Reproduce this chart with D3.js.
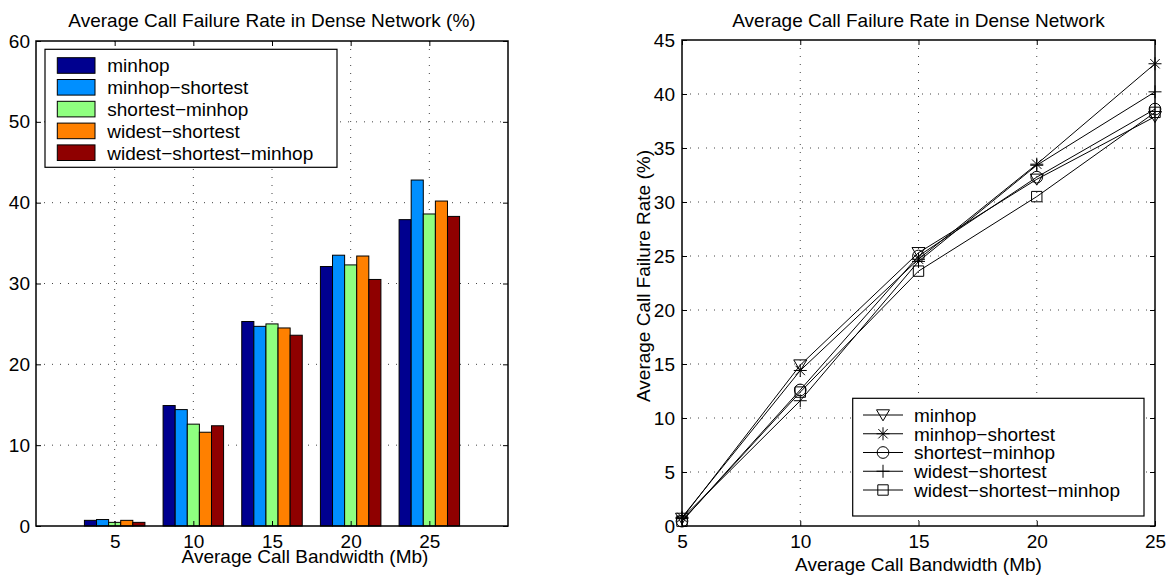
<!DOCTYPE html>
<html>
<head>
<meta charset="utf-8">
<script src="https://cdn.jsdelivr.net/npm/d3@7"></script>
<style>
  body { margin: 0; background: #fff; }
  text { font-family: "Liberation Sans", Arial, Helvetica, sans-serif; fill: #000; }
</style>
</head>
<body>
<svg id="chart" width="1169" height="578"></svg>
<script>
// Average call bandwidth categories (Mb)
const bandwidths = [5, 10, 15, 20, 25];
const seriesNames = ["minhop", "minhop\u2212shortest", "shortest\u2212minhop", "widest\u2212shortest", "widest\u2212shortest\u2212minhop"];

// Average call failure rate (%) per routing scheme
const minhop               = [0.7, 14.9, 25.3, 32.1, 37.9];
const minhopShortest       = [0.8, 14.4, 24.7, 33.5, 42.8];
const shortestMinhop       = [0.45, 12.6, 25.0, 32.3, 38.6];
const widestShortest       = [0.7, 11.6, 24.5, 33.4, 40.2];
const widestShortestMinhop = [0.45, 12.4, 23.6, 30.5, 38.3];

const barTicksY = [0, 10, 20, 30, 40, 50, 60];
const lineTicksY = [0, 5, 10, 15, 20, 25, 30, 35, 40, 45];
const lineTicksX = [5, 10, 15, 20, 25];

const barColors = ["#00008f", "#008fff", "#8fff80", "#ff8000", "#8f0000"];
const markerTypes = ["triangleDown", "asterisk", "circle", "plus", "square"];

const series = [minhop, minhopShortest, shortestMinhop, widestShortest, widestShortestMinhop]
  .map((values, i) => ({ name: seriesNames[i], values }));

const svg = d3.select("#chart");
const FONT = 19;

function dottedGrid(g, lines) {
  g.selectAll(null).data(lines).join("line")
    .attr("x1", d => d[0]).attr("y1", d => d[1])
    .attr("x2", d => d[2]).attr("y2", d => d[3])
    .attr("stroke", "#444").attr("stroke-width", 1)
    .attr("stroke-dasharray", "1,7");
}

// ---------- Left panel: grouped bars ----------
const L = { x0: 36, x1: 508, y0: 41, y1: 526 };
const xL = d3.scaleLinear().domain([0, 6]).range([L.x0, L.x1]);
const yL = d3.scaleLinear().domain([0, 60]).range([L.y1, L.y0]);
const gL = svg.append("g");

dottedGrid(gL, bandwidths.map((b, i) => [xL(i + 1), L.y0, xL(i + 1), L.y1])
  .concat(barTicksY.slice(1, -1).map(v => [L.x0, yL(v), L.x1, yL(v)])));

const step = xL(1) - xL(0);
const groupW = step * 0.769;
const barW = groupW / series.length;
series.forEach((s, si) => {
  gL.append("g").selectAll("rect").data(s.values).join("rect")
    .attr("x", (d, i) => xL(i + 1) - groupW / 2 + si * barW)
    .attr("y", d => yL(d))
    .attr("width", barW)
    .attr("height", d => yL(0) - yL(d))
    .attr("fill", barColors[si])
    .attr("stroke", "#000").attr("stroke-width", 1);
});

// axes with inward ticks
const axL = d3.axisLeft(yL).tickValues(barTicksY).tickSizeInner(-5).tickSizeOuter(0).tickPadding(6);
gL.append("g").attr("transform", `translate(${L.x0},0)`).call(axL)
  .call(g => g.select(".domain").remove())
  .call(g => g.selectAll("text").attr("font-size", FONT).attr("font-family", null));
const axLr = d3.axisRight(yL).tickValues(barTicksY).tickSizeInner(-5).tickSizeOuter(0).tickFormat("");
gL.append("g").attr("transform", `translate(${L.x1},0)`).call(axLr).call(g => g.select(".domain").remove());
const axLb = d3.axisBottom(xL).tickValues([1, 2, 3, 4, 5]).tickFormat((d, i) => bandwidths[i])
  .tickSizeInner(-5).tickSizeOuter(0).tickPadding(9);
gL.append("g").attr("transform", `translate(0,${L.y1})`).call(axLb)
  .call(g => g.select(".domain").remove())
  .call(g => g.selectAll("text").attr("font-size", FONT).attr("font-family", null));
const axLt = d3.axisTop(xL).tickValues([1, 2, 3, 4, 5]).tickFormat("").tickSizeInner(-5).tickSizeOuter(0);
gL.append("g").attr("transform", `translate(0,${L.y0})`).call(axLt).call(g => g.select(".domain").remove());
gL.append("rect").attr("x", L.x0).attr("y", L.y0).attr("width", L.x1 - L.x0).attr("height", L.y1 - L.y0)
  .attr("fill", "none").attr("stroke", "#000").attr("stroke-width", 1.5);

gL.append("text").attr("x", (L.x0 + L.x1) / 2).attr("y", 27).attr("text-anchor", "middle")
  .attr("font-size", FONT).text("Average Call Failure Rate in Dense Network (%)");
gL.append("text").attr("x", 305).attr("y", 563).attr("text-anchor", "middle")
  .attr("font-size", FONT).text("Average Call Bandwidth (Mb)");

// legend
const legL = gL.append("g");
legL.append("rect").attr("x", 45).attr("y", 49.3).attr("width", 292).attr("height", 118)
  .attr("fill", "#fff").attr("stroke", "#000").attr("stroke-width", 1.2);
series.forEach((s, i) => {
  const cy = 65.5 + i * 21.8;
  legL.append("rect").attr("x", 57.3).attr("y", cy - 7.8).attr("width", 37.7).attr("height", 15.6)
    .attr("fill", barColors[i]).attr("stroke", "#000").attr("stroke-width", 1);
  legL.append("text").attr("x", 107.3).attr("y", cy).attr("dy", "0.36em")
    .attr("font-size", FONT).text(s.name);
});

// ---------- Right panel: lines with markers ----------
const R = { x0: 682, x1: 1155, y0: 40, y1: 526 };
const xR = d3.scaleLinear().domain([5, 25]).range([R.x0, R.x1]);
const yR = d3.scaleLinear().domain([0, 45]).range([R.y1, R.y0]);
const gR = svg.append("g");

dottedGrid(gR, lineTicksX.slice(1, -1).map(v => [xR(v), R.y0, xR(v), R.y1])
  .concat(lineTicksY.slice(1, -1).map(v => [R.x0, yR(v), R.x1, yR(v)])));

function markerPath(type, r) {
  const p = d3.path();
  if (type === "triangleDown") {
    p.moveTo(-r, -r * 0.8); p.lineTo(r, -r * 0.8); p.lineTo(0, r * 0.9); p.closePath();
  } else if (type === "asterisk") {
    p.moveTo(-r, 0); p.lineTo(r, 0); p.moveTo(0, -r); p.lineTo(0, r);
    const q = r * 0.72;
    p.moveTo(-q, -q); p.lineTo(q, q); p.moveTo(-q, q); p.lineTo(q, -q);
  } else if (type === "circle") {
    p.arc(0, 0, r * 0.9, 0, Math.PI * 2);
  } else if (type === "plus") {
    p.moveTo(-r, 0); p.lineTo(r, 0); p.moveTo(0, -r); p.lineTo(0, r);
  } else if (type === "square") {
    p.rect(-r * 0.8, -r * 0.8, r * 1.6, r * 1.6);
  }
  return p.toString();
}

const line = d3.line().x((d, i) => xR(bandwidths[i])).y(d => yR(d));
series.forEach((s, si) => {
  gR.append("path").attr("d", line(s.values)).attr("fill", "none")
    .attr("stroke", "#000").attr("stroke-width", 1);
  gR.append("g").selectAll("path").data(s.values).join("path")
    .attr("transform", (d, i) => `translate(${xR(bandwidths[i])},${yR(d)})`)
    .attr("d", markerPath(markerTypes[si], 6.5))
    .attr("fill", "none").attr("stroke", "#000").attr("stroke-width", 1);
});

const axR = d3.axisLeft(yR).tickValues(lineTicksY).tickSizeInner(-5).tickSizeOuter(0).tickPadding(7);
gR.append("g").attr("transform", `translate(${R.x0},0)`).call(axR)
  .call(g => g.select(".domain").remove())
  .call(g => g.selectAll("text").attr("font-size", FONT).attr("font-family", null));
const axRr = d3.axisRight(yR).tickValues(lineTicksY).tickSizeInner(-5).tickSizeOuter(0).tickFormat("");
gR.append("g").attr("transform", `translate(${R.x1},0)`).call(axRr).call(g => g.select(".domain").remove());
const axRb = d3.axisBottom(xR).tickValues(lineTicksX).tickSizeInner(-5).tickSizeOuter(0).tickPadding(9);
gR.append("g").attr("transform", `translate(0,${R.y1})`).call(axRb)
  .call(g => g.select(".domain").remove())
  .call(g => g.selectAll("text").attr("font-size", FONT).attr("font-family", null));
const axRt = d3.axisTop(xR).tickValues(lineTicksX).tickFormat("").tickSizeInner(-5).tickSizeOuter(0);
gR.append("g").attr("transform", `translate(0,${R.y0})`).call(axRt).call(g => g.select(".domain").remove());
gR.append("rect").attr("x", R.x0).attr("y", R.y0).attr("width", R.x1 - R.x0).attr("height", R.y1 - R.y0)
  .attr("fill", "none").attr("stroke", "#000").attr("stroke-width", 1.5);

gR.append("text").attr("x", (R.x0 + R.x1) / 2).attr("y", 27).attr("text-anchor", "middle")
  .attr("font-size", FONT).text("Average Call Failure Rate in Dense Network");
gR.append("text").attr("x", (R.x0 + R.x1) / 2).attr("y", 571).attr("text-anchor", "middle")
  .attr("font-size", FONT).text("Average Call Bandwidth (Mb)");
gR.append("text").attr("transform", "translate(650,276) rotate(-90)").attr("text-anchor", "middle")
  .attr("font-size", FONT).text("Average Call Failure Rate (%)");

// legend
const legR = gR.append("g");
legR.append("rect").attr("x", 852.7).attr("y", 398.3).attr("width", 291.3).attr("height", 117.7)
  .attr("fill", "#fff").attr("stroke", "#000").attr("stroke-width", 1.2);
series.forEach((s, i) => {
  const cy = 415 + i * 18.75;
  legR.append("line").attr("x1", 863).attr("x2", 903).attr("y1", cy).attr("y2", cy)
    .attr("stroke", "#000").attr("stroke-width", 1);
  legR.append("path").attr("transform", `translate(883,${cy})`).attr("d", markerPath(markerTypes[i], 6.5))
    .attr("fill", "none").attr("stroke", "#000").attr("stroke-width", 1);
  legR.append("text").attr("x", 914).attr("y", cy).attr("dy", "0.36em")
    .attr("font-size", FONT).text(s.name);
});
</script>
</body>
</html>
